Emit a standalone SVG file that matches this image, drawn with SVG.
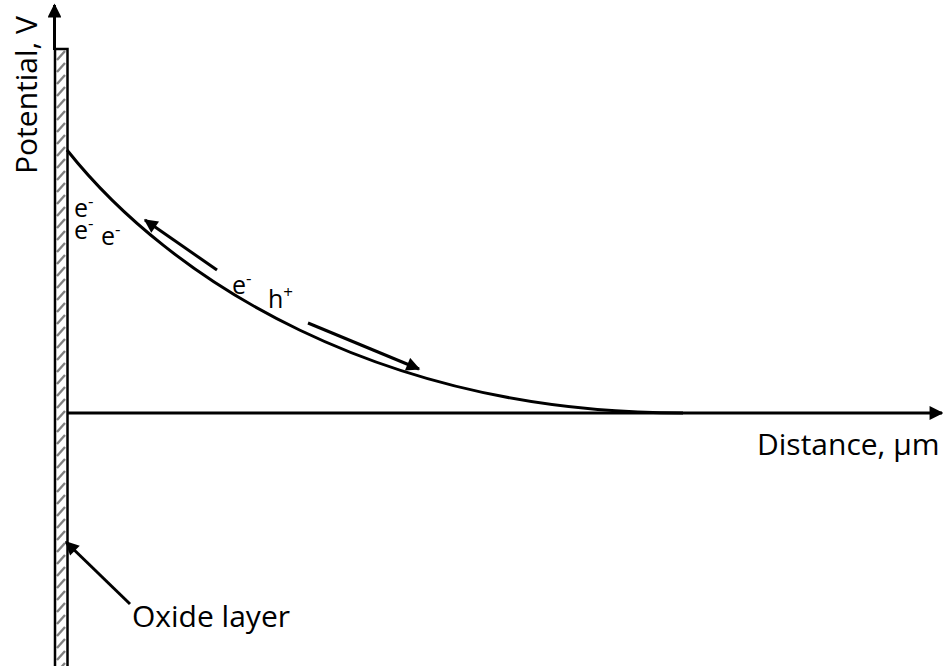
<svg xmlns="http://www.w3.org/2000/svg" width="943" height="666" viewBox="0 0 943 666">
<style>
.ln{stroke:#000;stroke-width:3;fill:none}
.t{font-family:"Open Sans","Liberation Sans",sans-serif;fill:#000}
.lb{font-size:30px}
.ch{font-size:25px}
.sp{font-size:17px}
</style>
<defs>
<pattern id="hatch" patternUnits="userSpaceOnUse" x="54" y="49" width="14" height="12">
<line x1="3" y1="11" x2="11" y2="2" stroke="#808080" stroke-width="2.4"/>
</pattern>
<marker id="ah" viewBox="0 0 10 10" refX="9" refY="5" markerWidth="5.2" markerHeight="4.6" orient="auto" markerUnits="strokeWidth">
<path d="M0,0 L10,5 L0,10 z" fill="#000"/>
</marker>
</defs>
<rect width="943" height="666" fill="#fff"/>
<g id="oxide">
<rect x="55" y="49" width="12.5" height="625" fill="url(#hatch)" stroke="#000" stroke-width="2.5"/>
</g>
<g id="connectors">
<line class="ln" x1="54.5" y1="50" x2="54.5" y2="5" marker-end="url(#ah)"/>
<line class="ln" x1="68" y1="413" x2="942" y2="413" marker-end="url(#ah)"/>
<path class="ln" d="M67,150 C170,280 380,413 683,413"/>
<line class="ln" x1="217" y1="270" x2="145" y2="220" marker-end="url(#ah)"/>
<line class="ln" x1="308" y1="323" x2="419" y2="369" marker-end="url(#ah)"/>
<line class="ln" x1="130" y1="604" x2="66" y2="542" marker-end="url(#ah)"/>
</g>
<g id="labels">
<text class="t lb" transform="translate(37,95) rotate(-90)" text-anchor="middle">Potential, V</text>
<text class="t lb" x="757" y="455">Distance, µm</text>
<text class="t lb" x="132" y="627">Oxide layer</text>
<text class="t ch" x="74" y="217">e<tspan class="sp" dy="-10">-</tspan></text>
<text class="t ch" x="74" y="239">e<tspan class="sp" dy="-10">-</tspan></text>
<text class="t ch" x="101" y="245">e<tspan class="sp" dy="-10">-</tspan></text>
<text class="t ch" x="232" y="294">e<tspan class="sp" dy="-10">-</tspan></text>
<text class="t ch" x="268" y="308">h<tspan class="sp" dy="-10">+</tspan></text>
</g>
</svg>
